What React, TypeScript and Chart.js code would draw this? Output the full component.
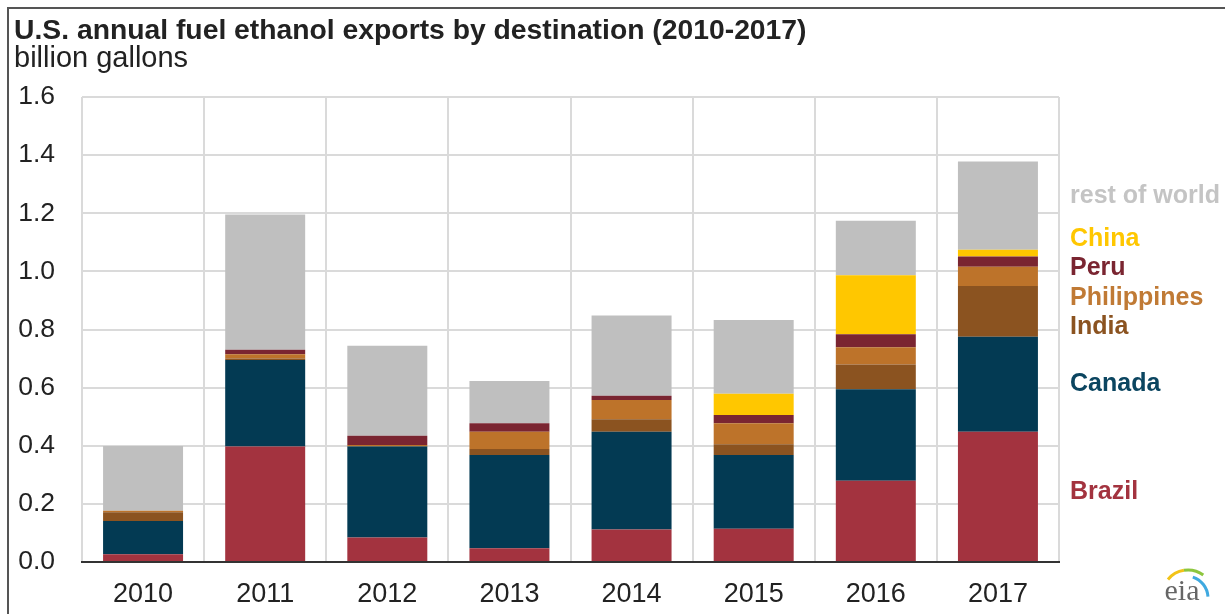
import React, { useEffect, useRef } from "react";
import { Chart, registerables } from "chart.js";

Chart.register(...registerables);

const years = ["2010", "2011", "2012", "2013", "2014", "2015", "2016", "2017"];
const brazil = [0.027, 0.397, 0.084, 0.047, 0.112, 0.114, 0.28, 0.448];
const canada = [0.114, 0.298, 0.313, 0.321, 0.336, 0.254, 0.314, 0.327];
const india = [0.03, 0.005, 0.002, 0.021, 0.043, 0.037, 0.086, 0.175];
const philippines = [0.005, 0.015, 0.004, 0.059, 0.066, 0.072, 0.059, 0.066];
const peru = [0, 0.015, 0.031, 0.029, 0.015, 0.029, 0.045, 0.035];
const china = [0, 0, 0, 0, 0, 0.073, 0.203, 0.023];
const restOfWorld = [0.223, 0.466, 0.31, 0.146, 0.276, 0.254, 0.187, 0.304];

const seriesNames = ["Brazil", "Canada", "India", "Philippines", "Peru", "China", "rest of world"];
const seriesColors = ["#A3333F", "#033A53", "#8B5320", "#BD732A", "#7A2531", "#FFC700", "#BFBFBF"];
const labelColors = ["#A3333F", "#0B4560", "#8B5320", "#C07A35", "#7A2531", "#FFC700", "#C4C4C4"];
// y-positions (in data units) of the right-hand series labels
const labelValues = [0.241, 0.612, 0.808, 0.908, 1.012, 1.111, 1.259];

const yTicks = [0, 0.2, 0.4, 0.6, 0.8, 1.0, 1.2, 1.4, 1.6];

const titleText = "U.S. annual fuel ethanol exports by destination (2010-2017)";
const subtitleText = "billion gallons";

const FONT = '"Liberation Sans", Arial, sans-serif';

const overlayPlugin = {
  id: "overlay",
  afterDraw(chart: any) {
    const ctx = chart.ctx;
    const y = chart.scales.y;
    const area = chart.chartArea;
    ctx.save();
    // frame
    ctx.strokeStyle = "#555";
    ctx.lineWidth = 2;
    ctx.beginPath();
    ctx.moveTo(8, 614);
    ctx.lineTo(8, 8);
    ctx.lineTo(1225, 8);
    ctx.stroke();

    // title
    ctx.fillStyle = "#222";
    ctx.textBaseline = "alphabetic";
    ctx.textAlign = "left";
    ctx.font = `bold 28.3px ${FONT}`;
    ctx.fillText(titleText, 14, 39);
    ctx.font = `29px ${FONT}`;
    ctx.fillText(subtitleText, 14, 67);

    // series labels
    ctx.font = `bold 25px ${FONT}`;
    ctx.textBaseline = "middle";
    seriesNames.forEach((name, i) => {
      ctx.fillStyle = labelColors[i];
      ctx.fillText(name, area.right + 11, y.getPixelForValue(labelValues[i]));
    });

    // eia logo
    const lx = 1182;
    const ly = 600;
    ctx.lineWidth = 3;
    ctx.strokeStyle = "#F2C318";
    ctx.beginPath();
    ctx.arc(lx + 6, ly - 4, 26, Math.PI * 1.22, Math.PI * 1.45);
    ctx.stroke();
    ctx.strokeStyle = "#8DC63F";
    ctx.beginPath();
    ctx.arc(lx + 6, ly - 4, 26, Math.PI * 1.45, Math.PI * 1.7);
    ctx.stroke();
    ctx.strokeStyle = "#3FA9E0";
    ctx.beginPath();
    ctx.arc(lx + 4, ly - 2, 22, Math.PI * 1.6, Math.PI * 1.98);
    ctx.stroke();
    ctx.fillStyle = "#666";
    ctx.font = `30px "Liberation Serif", "DejaVu Serif", serif`;
    ctx.textBaseline = "alphabetic";
    ctx.textAlign = "center";
    ctx.fillText("eia", lx, ly);
    ctx.restore();
  },
};

export default function App() {
  const ref = useRef<HTMLCanvasElement | null>(null);
  useEffect(() => {
    if (!ref.current) return;
    const seriesData = [brazil, canada, india, philippines, peru, china, restOfWorld];
    const chart = new Chart(ref.current, {
      type: "bar",
      data: {
        labels: years,
        datasets: seriesNames.map((name, i) => ({
          label: name,
          data: seriesData[i],
          backgroundColor: seriesColors[i],
          borderWidth: 0,
          barPercentage: 0.655,
          categoryPercentage: 1.0,
        })),
      },
      options: {
        responsive: false,
        animation: false,
        devicePixelRatio: 1,
        layout: { padding: { left: 10, right: 166, top: 97, bottom: 0 } },
        plugins: {
          legend: { display: false },
          tooltip: { enabled: false },
          title: { display: false },
        },
        scales: {
          x: {
            stacked: true,
            grid: { offset: true, color: "#DADADA", lineWidth: 2, drawTicks: false },
            border: { color: "#333", width: 2 },
            ticks: { font: { family: FONT, size: 27 }, color: "#222", padding: 16 },
            afterFit: (s: any) => {
              s.height = 52;
            },
          },
          y: {
            stacked: true,
            min: 0,
            max: 1.6,
            afterBuildTicks: (s: any) => {
              s.ticks = yTicks.map((v) => ({ value: v }));
            },
            ticks: {
              font: { family: FONT, size: 26.5 },
              color: "#222",
              padding: 27,
              callback: (v: any) => Number(v).toFixed(1),
            },
            grid: {
              color: (c: any) => (c.tick && c.tick.value === 0 ? "rgba(0,0,0,0)" : "#DADADA"),
              lineWidth: 2,
              drawTicks: false,
            },
            border: { display: false },
            afterFit: (s: any) => {
              s.width = 72;
            },
          },
        },
      },
      plugins: [overlayPlugin],
    });
    return () => chart.destroy();
  }, []);

  return (
    <div style={{ position: "fixed", left: 0, top: 0, width: 1225, height: 614, background: "#fff" }}>
      <canvas ref={ref} width={1225} height={614} style={{ display: "block" }} />
    </div>
  );
}
